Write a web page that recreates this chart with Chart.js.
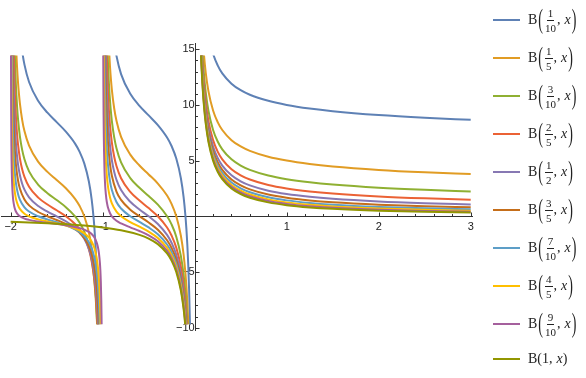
<!DOCTYPE html>
<html><head><meta charset="utf-8">
<script src="https://cdn.jsdelivr.net/npm/chart.js@4/dist/chart.umd.min.js"></script>
<style>
html,body{margin:0;padding:0;background:#fff;}
#wrap{position:relative;width:586px;height:378px;overflow:hidden;}
#c{position:absolute;left:0;top:0;}
#legend{position:absolute;left:0;top:0;width:586px;height:378px;pointer-events:none;font-family:"Liberation Serif","DejaVu Serif",serif;color:#222;}
.item{position:absolute;left:493px;height:0;display:flex;align-items:center;}
.sw{width:27px;height:2px;margin-right:8px;}
.lab{display:flex;align-items:center;font-size:14px;white-space:nowrap;}
.par{display:inline-block;transform:scaleY(1.9);font-size:14px;margin:0 1px;}
.frac{display:inline-flex;flex-direction:column;align-items:center;font-size:11px;line-height:12px;margin:0 1px;}
.frac .num{border-bottom:1px solid #222;padding:0 1px 1px 1px;}
.frac .den{padding-top:1px;}
.x{font-style:italic;margin-left:4px;}
</style></head>
<body><div id="wrap"><canvas id="c" width="586" height="378"></canvas><div id="legend"></div></div>
<script>
// ---- parameters a = num/den ----
const aNum = [1,1,3,2,1,3,7,4,9,1];
const aDen = [10,5,10,5,2,5,10,5,10,1];
const colors = ['#5E81B5','#E19C24','#8FB032','#EB6235','#8778B3','#C56E1A','#5D9EC7','#FFBF00','#A5609D','#929600'];
const xTicks = [-2,-1,1,2,3];
const yTicks = [-10,-5,5,10,15];

// ---- branch x > 0 (shared x grid) ----
const xR = [0.06,0.07,0.08,0.09,0.1,0.12,0.15,0.2,0.25,0.3,0.4,0.5,0.6,0.8,1,1.25,1.5,2,2.5,3];
const b01R = [26.43,24.04,22.24,20.84,19.72,18.02,16.32,14.60,13.55,12.83,11.91,11.32,10.91,10.37,10,9.676,9.436,9.091,8.846,8.658];
const b02R = [21.31,18.92,17.12,15.72,14.60,12.91,11.22,9.50,8.457,7.748,6.838,6.268,5.872,5.345,5,4.698,4.477,4.167,3.950,3.788];
const b03R = [19.54,17.15,15.35,13.95,12.83,11.15,9.456,7.748,6.711,6.010,5.113,4.555,4.170,3.662,3.333,3.050,2.847,2.564,2.372,2.230];
const b04R = [18.60,16.21,14.42,13.02,11.91,10.23,8.538,6.838,5.808,5.112,4.227,3.679,3.303,2.813,2.5,2.234,2.044,1.786,1.614,1.488];
const b05R = [18.01,15.63,13.83,12.44,11.32,9.645,7.962,6.268,5.244,4.555,3.680,3.142,2.775,2.299,2,1.748,1.571,1.333,1.178,1.067];
const b06R = [17.60,15.21,13.42,12.03,10.91,9.238,7.559,5.872,4.854,4.169,3.304,2.775,2.416,1.954,1.667,1.428,1.261,1.042,0.901,0.801];
const b07R = [17.29,14.90,13.12,11.72,10.61,8.935,7.259,5.577,4.563,3.883,3.027,2.506,2.155,1.705,1.429,1.201,1.044,0.840,0.712,0.623];
const b08R = [17.04,14.66,12.87,11.48,10.37,8.694,7.022,5.345,4.336,3.661,2.813,2.299,1.955,1.517,1.25,1.032,0.884,0.694,0.577,0.496];
const b09R = [16.84,14.46,12.67,11.28,10.17,8.497,6.828,5.157,4.152,3.482,2.641,2.135,1.796,1.369,1.111,0.903,0.763,0.585,0.477,0.403];
const b10R = [16.67,14.29,12.5,11.11,10,8.333,6.667,5,4,3.333,2.5,2,1.667,1.25,1,0.8,0.667,0.5,0.4,0.333];

// ---- branch -1 < x < 0 : [x, y] ----
const b01M = [[-0.95,26.65],[-0.9,17.52],[-0.875,15.67],[-0.85,14.40],[-0.8,12.77],[-0.7,11.00],[-0.6,9.922],[-0.5,9.058],[-0.4,8.186],[-0.3,7.072],[-0.25,6.287],[-0.2,5.183],[-0.15,3.420],[-0.12,1.700],[-0.1,0],[-0.09,-1.128],[-0.08,-2.533],[-0.07,-4.334],[-0.06,-6.731],[-0.05,-10.08],[-0.045,-12.31]];
const b02M = [[-0.94,16.77],[-0.93,14.85],[-0.92,13.40],[-0.91,12.27],[-0.9,11.36],[-0.875,9.70],[-0.85,8.58],[-0.8,7.13],[-0.7,5.54],[-0.6,4.56],[-0.5,3.76],[-0.4,2.94],[-0.3,1.86],[-0.25,1.09],[-0.2,0],[-0.15,-1.749],[-0.12,-3.461],[-0.1,-5.157],[-0.09,-6.282],[-0.08,-7.686],[-0.07,-9.485],[-0.06,-11.88]];
const b03M = [[-0.955,17.22],[-0.95,15.65],[-0.945,14.37],[-0.94,13.30],[-0.93,11.61],[-0.92,10.34],[-0.91,9.351],[-0.9,8.554],[-0.875,7.102],[-0.85,6.119],[-0.8,4.843],[-0.7,3.434],[-0.6,2.557],[-0.5,1.822],[-0.4,1.043],[-0.3,0],[-0.25,-0.753],[-0.2,-1.831],[-0.15,-3.569],[-0.12,-5.273],[-0.1,-6.964],[-0.09,-8.087],[-0.08,-9.488],[-0.07,-11.29]];
const b04M = [[-0.965,17.87],[-0.96,15.72],[-0.955,14.05],[-0.95,12.70],[-0.94,10.69],[-0.93,9.240],[-0.92,8.150],[-0.9,6.614],[-0.875,5.367],[-0.85,4.520],[-0.8,3.419],[-0.7,2.191],[-0.6,1.409],[-0.5,0.736],[-0.4,0],[-0.3,-1.009],[-0.25,-1.748],[-0.2,-2.813],[-0.15,-4.538],[-0.12,-6.236],[-0.1,-7.923],[-0.09,-9.045],[-0.08,-10.44]];
const b05M = [[-0.972,18.01],[-0.968,15.77],[-0.965,14.42],[-0.96,12.63],[-0.95,10.12],[-0.94,8.432],[-0.93,7.226],[-0.92,6.315],[-0.9,5.032],[-0.875,3.990],[-0.85,3.279],[-0.8,2.351],[-0.7,1.301],[-0.6,0.613],[-0.5,0],[-0.4,-0.694],[-0.3,-1.671],[-0.25,-2.397],[-0.2,-3.449],[-0.15,-5.165],[-0.12,-6.857],[-0.1,-8.539],[-0.09,-9.647],[-0.08,-11.06]];
const b06M = [[-0.978,17.94],[-0.975,15.75],[-0.9725,14.29],[-0.97,13.07],[-0.965,11.16],[-0.96,9.729],[-0.95,7.714],[-0.94,6.366],[-0.92,4.669],[-0.9,3.638],[-0.85,2.223],[-0.8,1.468],[-0.7,0.596],[-0.6,0],[-0.5,-0.555],[-0.4,-1.208],[-0.3,-2.154],[-0.25,-2.868],[-0.2,-3.908],[-0.15,-5.621],[-0.12,-7.314],[-0.1,-8.979],[-0.09,-10.10]];
const b07M = [[-0.984,18.22],[-0.982,16.14],[-0.98,14.47],[-0.978,13.10],[-0.975,11.46],[-0.97,9.456],[-0.96,6.941],[-0.95,5.428],[-0.94,4.414],[-0.92,3.136],[-0.9,2.357],[-0.85,1.281],[-0.8,0.697],[-0.7,0],[-0.6,-0.5045],[-0.5,-1.002],[-0.4,-1.616],[-0.3,-2.532],[-0.25,-3.233],[-0.2,-4.263],[-0.15,-5.957],[-0.12,-7.643],[-0.1,-9.315],[-0.09,-10.43]];
const b08M = [[-0.9895,18.31],[-0.988,15.93],[-0.9868,14.41],[-0.9855,13.05],[-0.984,11.76],[-0.98,9.256],[-0.975,7.249],[-0.97,5.910],[-0.96,4.230],[-0.95,3.217],[-0.94,2.537],[-0.92,1.678],[-0.9,1.152],[-0.85,0.413],[-0.8,0],[-0.7,-0.523],[-0.6,-0.938],[-0.5,-1.379],[-0.4,-1.955],[-0.3,-2.842],[-0.25,-3.532],[-0.2,-4.551],[-0.15,-6.234],[-0.12,-7.913],[-0.1,-9.584],[-0.09,-10.70]];
const b09M = [[-0.9945,17.29],[-0.994,15.78],[-0.9935,14.50],[-0.9928,13.00],[-0.992,11.61],[-0.99,9.107],[-0.9875,7.105],[-0.985,5.768],[-0.98,4.096],[-0.975,3.090],[-0.97,2.418],[-0.96,1.573],[-0.95,1.062],[-0.94,0.7165],[-0.92,0.2754],[-0.9,0],[-0.85,-0.4016],[-0.8,-0.6446],[-0.7,-0.9949],[-0.6,-1.3205],[-0.5,-1.708],[-0.4,-2.245],[-0.3,-3.105],[-0.25,-3.784],[-0.2,-4.792],[-0.15,-6.468],[-0.12,-8.141],[-0.1,-9.809],[-0.09,-10.92]];

// ---- branch -2 < x < -1 : [x, y] ----
const b01L = [[-1.95,25.28],[-1.9,16.60],[-1.875,14.83],[-1.85,13.62],[-1.8,12.06],[-1.7,10.35],[-1.6,9.302],[-1.5,8.454],[-1.4,7.601],[-1.3,6.528],[-1.25,5.784],[-1.2,4.751],[-1.15,3.123],[-1.12,1.548],[-1.1,0],[-1.09,-1.025],[-1.08,-2.298],[-1.07,-3.929],[-1.06,-6.096],[-1.05,-9.120],[-1.045,-11.13]];
const b02L = [[-1.95,17.47],[-1.94,15.04],[-1.93,13.31],[-1.92,12.00],[-1.91,10.99],[-1.9,10.16],[-1.875,8.665],[-1.85,7.65],[-1.8,6.34],[-1.7,4.89],[-1.6,3.99],[-1.5,3.26],[-1.4,2.52],[-1.3,1.57],[-1.25,0.916],[-1.2,0],[-1.15,-1.445],[-1.12,-2.843],[-1.1,-4.219],[-1.09,-5.129],[-1.08,-6.263],[-1.07,-7.712],[-1.06,-9.638],[-1.055,-10.86]];
const b03L = [[-1.96,16.24],[-1.955,14.58],[-1.95,13.24],[-1.945,12.15],[-1.94,11.24],[-1.93,9.806],[-1.92,8.725],[-1.9,7.203],[-1.875,5.966],[-1.85,5.127],[-1.8,4.036],[-1.7,2.828],[-1.6,2.078],[-1.5,1.458],[-1.4,0.819],[-1.3,0],[-1.25,-0.572],[-1.2,-1.373],[-1.15,-2.638],[-1.12,-3.860],[-1.1,-5.065],[-1.09,-5.861],[-1.08,-6.852],[-1.07,-8.124],[-1.06,-9.816],[-1.055,-10.89]];
const b04L = [[-1.97,16.53],[-1.965,14.23],[-1.96,12.51],[-1.955,11.18],[-1.95,10.10],[-1.94,8.486],[-1.93,7.325],[-1.92,6.452],[-1.9,5.222],[-1.875,4.222],[-1.85,3.543],[-1.8,2.659],[-1.7,1.675],[-1.6,1.057],[-1.5,0.540],[-1.4,0],[-1.3,-0.699],[-1.25,-1.189],[-1.2,-1.875],[-1.15,-2.960],[-1.12,-4.009],[-1.1,-5.042],[-1.09,-5.725],[-1.08,-6.573],[-1.07,-7.665],[-1.06,-9.109],[-1.055,-10.03],[-1.05,-11.13]];
const b05L = [[-1.978,17.10],[-1.974,14.47],[-1.97,12.55],[-1.965,10.75],[-1.96,9.408],[-1.95,7.525],[-1.94,6.259],[-1.93,5.354],[-1.92,4.671],[-1.9,3.708],[-1.875,2.926],[-1.85,2.393],[-1.8,1.698],[-1.7,0.918],[-1.6,0.421],[-1.5,0],[-1.4,-0.446],[-1.3,-1.028],[-1.25,-1.438],[-1.2,-2.012],[-1.15,-2.919],[-1.12,-3.796],[-1.1,-4.658],[-1.09,-5.222],[-1.08,-5.939],[-1.07,-6.850],[-1.06,-8.057],[-1.05,-9.743],[-1.045,-10.86]];
const b06L = [[-1.984,17.27],[-1.981,14.51],[-1.978,12.50],[-1.975,10.96],[-1.97,9.089],[-1.965,7.753],[-1.96,6.751],[-1.95,5.340],[-1.94,4.397],[-1.92,3.210],[-1.9,2.489],[-1.85,1.502],[-1.8,0.979],[-1.7,0.386],[-1.6,0],[-1.5,-0.333],[-1.4,-0.690],[-1.3,-1.160],[-1.25,-1.491],[-1.2,-1.954],[-1.15,-2.688],[-1.12,-3.396],[-1.1,-4.081],[-1.09,-4.540],[-1.08,-5.107],[-1.07,-5.834],[-1.06,-6.800],[-1.05,-8.149],[-1.045,-9.044],[-1.04,-10.16]];
const b07L = [[-1.989,17.34],[-1.9868,14.38],[-1.9845,12.19],[-1.982,10.44],[-1.98,9.355],[-1.975,7.398],[-1.97,6.096],[-1.96,4.462],[-1.95,3.479],[-1.94,2.821],[-1.92,1.993],[-1.9,1.489],[-1.85,0.796],[-1.8,0.426],[-1.7,0],[-1.6,-0.284],[-1.5,-0.534],[-1.4,-0.808],[-1.3,-1.169],[-1.25,-1.423],[-1.2,-1.776],[-1.15,-2.331],[-1.12,-2.866],[-1.1,-3.387],[-1.09,-3.732],[-1.08,-4.159],[-1.07,-4.706],[-1.06,-5.433],[-1.05,-6.446],[-1.04,-7.960],[-1.035,-9.040],[-1.03,-10.48]];
const b08L = [[-1.9932,17.17],[-1.992,14.52],[-1.9905,12.15],[-1.989,10.43],[-1.9868,8.607],[-1.984,7.018],[-1.98,5.517],[-1.975,4.312],[-1.97,3.510],[-1.96,2.503],[-1.95,1.897],[-1.94,1.491],[-1.92,0.979],[-1.9,0.667],[-1.85,0.234],[-1.8,0],[-1.7,-0.277],[-1.6,-0.469],[-1.5,-0.644],[-1.4,-0.838],[-1.3,-1.093],[-1.25,-1.272],[-1.2,-1.517],[-1.15,-1.897],[-1.12,-2.261],[-1.1,-2.614],[-1.09,-2.847],[-1.08,-3.158],[-1.07,-3.529],[-1.06,-4.021],[-1.05,-4.706],[-1.04,-5.727],[-1.03,-7.419],[-1.025,-8.769],[-1.02,-10.79]];
const b09L = [[-1.997,17.82],[-1.9963,14.36],[-1.9955,11.71],[-1.9945,9.488],[-1.9935,7.954],[-1.992,6.364],[-1.99,4.988],[-1.9875,3.888],[-1.985,3.153],[-1.98,2.234],[-1.975,1.682],[-1.97,1.313],[-1.96,0.851],[-1.95,0.572],[-1.94,0.384],[-1.92,0.146],[-1.9,0],[-1.85,-0.206],[-1.8,-0.322],[-1.7,-0.468],[-1.6,-0.578],[-1.5,-0.683],[-1.4,-0.802],[-1.3,-0.955],[-1.25,-1.060],[-1.2,-1.198],[-1.15,-1.406],[-1.12,-1.599],[-1.1,-1.783],[-1.09,-1.903],[-1.08,-2.055],[-1.07,-2.243],[-1.06,-2.490],[-1.05,-2.835],[-1.04,-3.345],[-1.03,-4.189],[-1.025,-4.865],[-1.02,-5.868],[-1.015,-7.544],[-1.0125,-8.882],[-1.011,-9.977],[-1.01,-10.89]];
// a = 1 : no pole at -1, one branch on -2 < x < 0
const b10LM = [[-2,-0.5],[-1.8,-0.5556],[-1.6,-0.625],[-1.4,-0.7143],[-1.2,-0.8333],[-1,-1],[-0.8,-1.25],[-0.6,-1.667],[-0.5,-2],[-0.4,-2.5],[-0.3,-3.333],[-0.25,-4],[-0.2,-5],[-0.15,-6.667],[-0.12,-8.333],[-0.1,-10],[-0.09,-11.11]];

const Ls = [b01L,b02L,b03L,b04L,b05L,b06L,b07L,b08L,b09L];
const Ms = [b01M,b02M,b03M,b04M,b05M,b06M,b07M,b08M,b09M];
const Rs = [b01R,b02R,b03R,b04R,b05R,b06R,b07R,b08R,b09R,b10R];

const pts = arr => arr.map(p => ({x:p[0], y:p[1]}));
const datasets = colors.map((c,i) => {
  let d;
  const right = xR.map((x,j) => ({x, y:Rs[i][j]}));
  if (i === 9) d = [...pts(b10LM), {x:0,y:null}, ...right];
  else d = [...pts(Ls[i]), {x:-1,y:null}, ...pts(Ms[i]), {x:0,y:null}, ...right];
  return {
    label: 'B(' + aNum[i] + '/' + aDen[i] + ', x)',
    data: d, borderColor: c, backgroundColor: c, borderWidth: 2,
    pointRadius: 0, fill: false, spanGaps: false,
    cubicInterpolationMode: 'monotone', order: 9 - i,
    clip: {left: false, right: false, top: -12.5, bottom: -6.8}
  };
});

const fmt = v => v < 0 ? '\u2212' + Math.abs(v) : String(v);
const AX = '#333';

const axesPlugin = {
  id: 'mmaAxes',
  beforeDatasetsDraw(chart) {
    const {ctx, chartArea: a, scales: {x, y}} = chart;
    const x0 = Math.round(x.getPixelForValue(0)) + 0.5;
    const y0 = Math.round(y.getPixelForValue(0)) + 0.5;
    ctx.save();
    ctx.strokeStyle = AX; ctx.lineWidth = 1;
    ctx.beginPath();
    ctx.moveTo(a.left, y0); ctx.lineTo(a.right, y0);
    ctx.moveTo(x0, a.top); ctx.lineTo(x0, a.bottom);
    for (let k = -10; k <= 15; k++) {
      if (k === 0) continue;
      const px = Math.round(x.getPixelForValue(k / 5)) + 0.5;
      const len = (k % 5 === 0) ? 4 : 2.5;
      ctx.moveTo(px, y0); ctx.lineTo(px, y0 - len);
    }
    for (let v = -10; v <= 15; v++) {
      if (v === 0) continue;
      const py = Math.round(y.getPixelForValue(v)) + 0.5;
      const len = (v % 5 === 0) ? 4 : 2.5;
      ctx.moveTo(x0, py); ctx.lineTo(x0 + len, py);
    }
    ctx.stroke();
    ctx.restore();
  }
};

const tickFont = {family: '"Liberation Sans", Arial, sans-serif', size: 11};
new Chart(document.getElementById('c'), {
  type: 'line',
  data: {datasets},
  options: {
    responsive: false, animation: false, devicePixelRatio: 1,
    layout: {padding: {left: 1, right: 113, top: 43, bottom: 47}},
    plugins: {legend: {display: false}, tooltip: {enabled: false}},
    scales: {
      x: {
        type: 'linear', min: -2.105, max: 3.025, position: {y: 0}, z: 1,
        grid: {display: false, drawTicks: false}, border: {display: false},
        afterBuildTicks: s => { s.ticks = xTicks.map(v => ({value: v})); },
        ticks: {autoSkip: false, maxRotation: 0, padding: 4, color: '#222', font: tickFont, callback: v => fmt(v)}
      },
      y: {
        type: 'linear', min: -10.3, max: 15.56, position: {x: 0},
        grid: {display: false, drawTicks: false}, border: {display: false},
        afterBuildTicks: s => { s.ticks = yTicks.map(v => ({value: v})); },
        ticks: {autoSkip: false, padding: 4, color: '#222', font: tickFont, callback: v => fmt(v)}
      }
    }
  },
  plugins: [axesPlugin]
});

// ---- HTML legend ----
const leg = document.getElementById('legend');
colors.forEach((c, i) => {
  const item = document.createElement('div');
  item.className = 'item';
  item.style.top = (i < 9 ? 20 + 38.04 * i : 359) + 'px';
  const sw = document.createElement('span');
  sw.className = 'sw'; sw.style.background = c;
  const lab = document.createElement('span');
  lab.className = 'lab';
  let inner;
  if (aDen[i] === 1) {
    inner = 'B(' + aNum[i] + ',<span class="x">x</span>)';
  } else {
    inner = 'B<span class="par">(</span><span class="frac"><span class="num">' + aNum[i] +
      '</span><span class="den">' + aDen[i] + '</span></span>,<span class="x">x</span><span class="par">)</span>';
  }
  lab.innerHTML = inner;
  item.appendChild(sw); item.appendChild(lab);
  leg.appendChild(item);
});
</script></body></html>
